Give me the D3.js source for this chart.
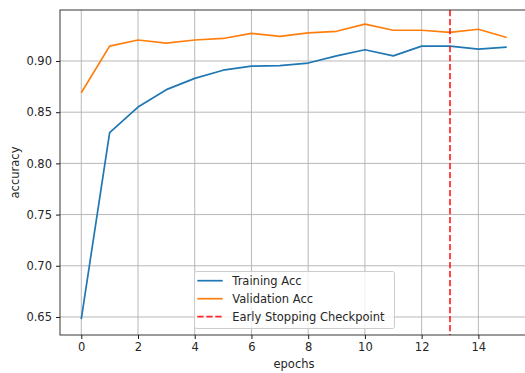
<!DOCTYPE html>
<html>
<head>
<meta charset="utf-8">
<script src="https://cdn.jsdelivr.net/npm/d3@7"></script>
<style>
  html, body { margin: 0; padding: 0; background: #fff; }
  svg { display: block; font-family: "DejaVu Sans", sans-serif; }
</style>
</head>
<body>
<svg id="chart" width="525" height="373"></svg>
<script>
// Accuracy per epoch
const epochs = [0, 1, 2, 3, 4, 5, 6, 7, 8, 9, 10, 11, 12, 13, 14, 15];
const trainAcc = [0.648, 0.830, 0.855, 0.872, 0.883, 0.891, 0.895, 0.8955, 0.898, 0.905, 0.911, 0.905, 0.9145, 0.9145, 0.9115, 0.9135];
const valAcc = [0.869, 0.9145, 0.9205, 0.9175, 0.9205, 0.922, 0.927, 0.924, 0.9275, 0.929, 0.936, 0.930, 0.930, 0.928, 0.931, 0.923];
const checkpointEpoch = 13;
const xTicks = [0, 2, 4, 6, 8, 10, 12, 14];
const yTicks = [0.65, 0.70, 0.75, 0.80, 0.85, 0.90];
const legendLabels = ["Training Acc", "Validation Acc", "Early Stopping Checkpoint"];

const fontSize = "11.5px";
const margin = { left: 60, top: 10, right: 528, bottom: 335 };
const svg = d3.select("#chart");

const x = d3.scaleLinear().domain([-0.75, 15.75]).range([margin.left, margin.right]);
const y = d3.scaleLinear().domain([0.6324, 0.9498]).range([margin.bottom, margin.top]);

// grid
const grid = svg.append("g");
grid.selectAll("line.gx").data(xTicks).join("line")
  .attr("x1", d => x(d)).attr("x2", d => x(d))
  .attr("y1", margin.top).attr("y2", margin.bottom)
  .attr("stroke", "#b0b0b0").attr("stroke-width", 0.9);
grid.selectAll("line.gy").data(yTicks).join("line")
  .attr("x1", margin.left).attr("x2", margin.right)
  .attr("y1", d => y(d)).attr("y2", d => y(d))
  .attr("stroke", "#b0b0b0").attr("stroke-width", 0.9);

// lines
const line = vals => d3.line().x((d, i) => x(epochs[i])).y(d => y(d))(vals);
svg.append("path").attr("d", line(trainAcc))
  .attr("fill", "none").attr("stroke", "#1f77b4").attr("stroke-width", 1.7).attr("stroke-linejoin", "round");
svg.append("path").attr("d", line(valAcc))
  .attr("fill", "none").attr("stroke", "#ff7f0e").attr("stroke-width", 1.7).attr("stroke-linejoin", "round");

// checkpoint marker
svg.append("line")
  .attr("x1", x(checkpointEpoch)).attr("x2", x(checkpointEpoch))
  .attr("y1", margin.top).attr("y2", margin.bottom)
  .attr("stroke", "red").attr("stroke-opacity", 0.85).attr("stroke-width", 1.7).attr("stroke-dasharray", "6.3,2.7");

// axes
const xAxis = d3.axisBottom(x).tickValues(xTicks).tickSize(4).tickPadding(4).tickFormat(d3.format("d"));
const yAxis = d3.axisLeft(y).tickValues(yTicks).tickSize(4).tickPadding(4).tickFormat(d3.format(".2f"));
const gx = svg.append("g").attr("transform", `translate(0,${margin.bottom})`).call(xAxis);
const gy = svg.append("g").attr("transform", `translate(${margin.left},0)`).call(yAxis);
[gx, gy].forEach(g => {
  g.select(".domain").remove();
  g.selectAll(".tick line").attr("stroke", "#000").attr("stroke-width", 0.9);
  g.selectAll(".tick text").attr("fill", "#262626").style("font-size", fontSize).style("font-family", "DejaVu Sans");
});

// spines
svg.append("rect")
  .attr("x", margin.left).attr("y", margin.top)
  .attr("width", margin.right - margin.left).attr("height", margin.bottom - margin.top)
  .attr("fill", "none").attr("stroke", "#222").attr("stroke-width", 0.9);

// axis labels
svg.append("text").attr("x", (margin.left + margin.right) / 2).attr("y", 368)
  .attr("text-anchor", "middle").style("font-size", fontSize).attr("fill", "#262626").text("epochs");
svg.append("text").attr("transform", `translate(19,${(margin.top + margin.bottom) / 2}) rotate(-90)`)
  .attr("text-anchor", "middle").style("font-size", fontSize).attr("fill", "#262626").text("accuracy");

// legend
const lg = svg.append("g");
lg.append("rect").attr("x", 194.5).attr("y", 271.5).attr("width", 200).attr("height", 57)
  .attr("rx", 2).attr("fill", "white").attr("fill-opacity", 0.8)
  .attr("stroke", "#cccccc").attr("stroke-width", 1);
const legendStyles = [
  { color: "#1f77b4", dash: null },
  { color: "#ff7f0e", dash: null },
  { color: "red", dash: "6.3,2.7" }
];
legendLabels.forEach((lab, i) => {
  const yy = 280.7 + i * 18;
  lg.append("line").attr("x1", 197.3).attr("x2", 222.7).attr("y1", yy).attr("y2", yy)
    .attr("stroke", legendStyles[i].color).attr("stroke-width", 1.7)
    .attr("stroke-opacity", i === 2 ? 0.85 : 1)
    .attr("stroke-dasharray", legendStyles[i].dash);
  lg.append("text").attr("x", 232.3).attr("y", yy + 4.2)
    .style("font-size", fontSize).attr("fill", "#262626").text(lab);
});
</script>
</body>
</html>
